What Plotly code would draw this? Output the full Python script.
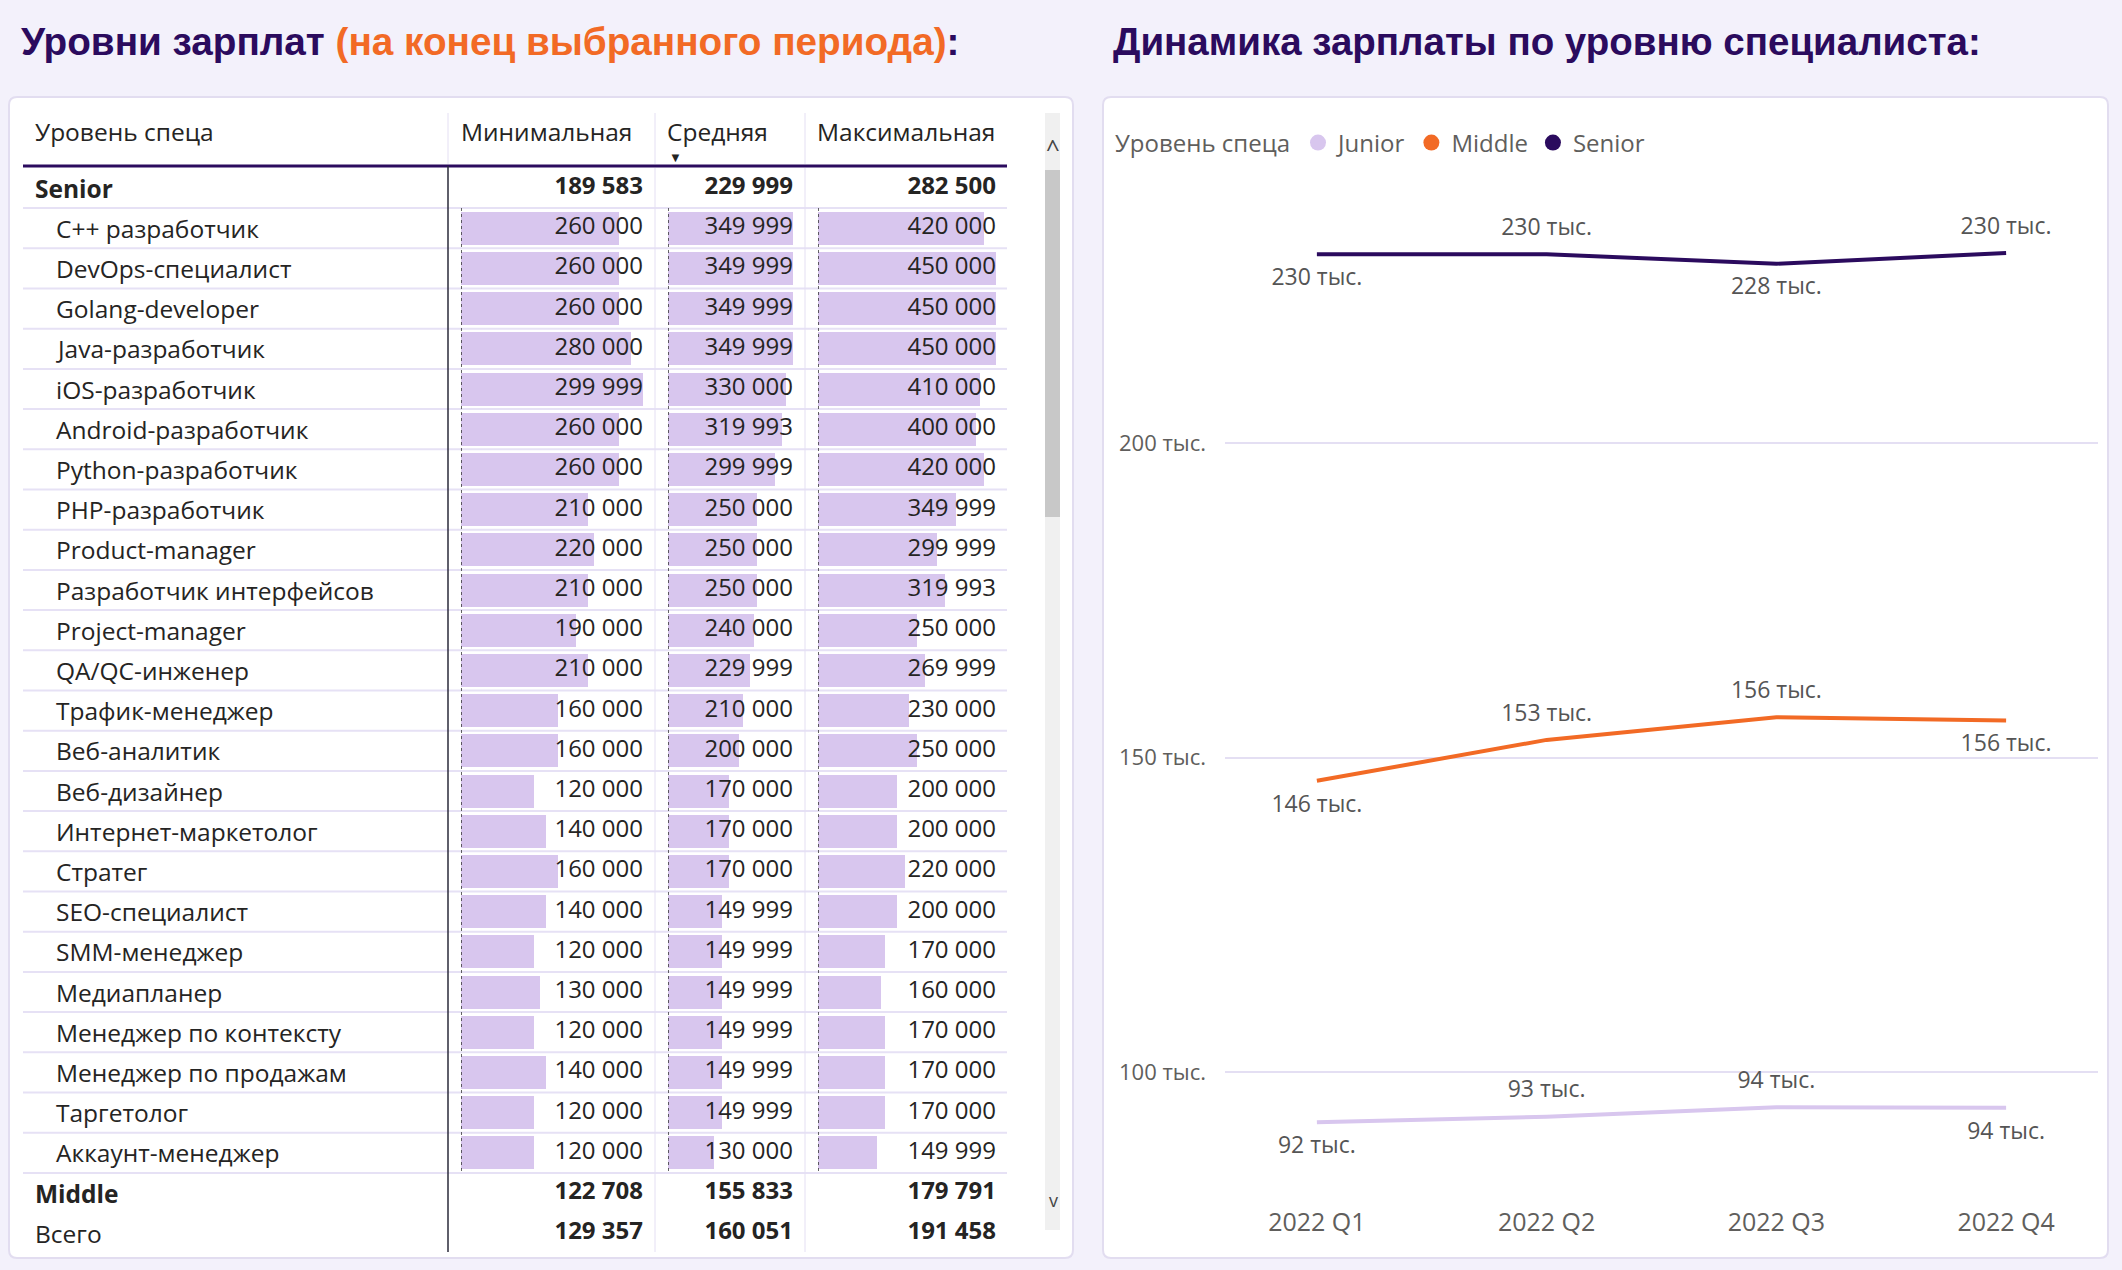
import plotly.graph_objects as go

# ---------------- data ----------------
spec_labels = ["C++ разработчик", "DevOps-специалист", "Golang-developer", "Java-разработчик",
               "iOS-разработчик", "Android-разработчик", "Python-разработчик", "PHP-разработчик",
               "Product-manager", "Разработчик интерфейсов", "Project-manager", "QA/QC-инженер",
               "Трафик-менеджер", "Веб-аналитик", "Веб-дизайнер", "Интернет-маркетолог", "Стратег",
               "SEO-специалист", "SMM-менеджер", "Медиапланер", "Менеджер по контексту",
               "Менеджер по продажам", "Таргетолог", "Аккаунт-менеджер"]
spec_min = [260000, 260000, 260000, 280000, 299999, 260000, 260000, 210000, 220000, 210000, 190000,
            210000, 160000, 160000, 120000, 140000, 160000, 140000, 120000, 130000, 120000, 140000,
            120000, 120000]
spec_mean = [349999, 349999, 349999, 349999, 330000, 319993, 299999, 250000, 250000, 250000, 240000,
             229999, 210000, 200000, 170000, 170000, 170000, 149999, 149999, 149999, 149999, 149999,
             149999, 130000]
spec_max = [420000, 450000, 450000, 450000, 410000, 400000, 420000, 349999, 299999, 319993, 250000,
            269999, 230000, 250000, 200000, 200000, 220000, 200000, 170000, 160000, 170000, 170000,
            170000, 149999]

senior_totals = [189583, 229999, 282500]
middle_totals = [122708, 155833, 179791]
all_totals = [129357, 160051, 191458]

column_headers = ["Уровень спеца", "Минимальная", "Средняя", "Максимальная"]

quarters = ["2022 Q1", "2022 Q2", "2022 Q3", "2022 Q4"]
junior_dyn = [92000, 92900, 94400, 94300]
middle_dyn = [146300, 152800, 156400, 155900]
senior_dyn = [230000, 230000, 228500, 230200]
y_ticks = [100000, 150000, 200000]

# ---------------- geometry helpers ----------------
W, H = 2122, 1270
def px(x): return x / W
def py(y): return 1 - y / H

BG = "#F3F1FB"
PURPLE = "#2B0B5E"
ORANGE = "#F26A25"
LAV = "#D8C6EE"
TXT = "#252423"
GRAY = "#605E5C"
FONT = "Segoe UI, Open Sans, Noto Sans, sans-serif"
TFONT = "Arial, Liberation Sans, sans-serif"
TS = 24.5   # table text size
VS = 24     # table value size

def fmt(v):
    return f"{v:,}".replace(",", " ")

def rrect(x0, y0, x1, y1, r=8, line="#E2DDF0", fill="white", w=2):
    rx, ry = r / W, r / H
    X0, X1 = px(x0), px(x1)
    Y0, Y1 = py(y1), py(y0)  # bottom, top in paper
    path = (f"M {X0+rx},{Y0} L {X1-rx},{Y0} Q {X1},{Y0} {X1},{Y0+ry} L {X1},{Y1-ry} "
            f"Q {X1},{Y1} {X1-rx},{Y1} L {X0+rx},{Y1} Q {X0},{Y1} {X0},{Y1-ry} "
            f"L {X0},{Y0+ry} Q {X0},{Y0} {X0+rx},{Y0} Z")
    return dict(type="path", xref="paper", yref="paper", path=path,
                line=dict(color=line, width=w), fillcolor=fill, layer="below")

# rows: 0 = Senior, 1..24 specs, 25 = Middle, 26 = Всего
n_spec = len(spec_labels)
spec_idx = list(range(1, n_spec + 1))
row_labels = ["Senior"] + spec_labels + ["Middle", "Всего"]
n_rows = len(row_labels)
group_rows = {0: senior_totals, n_spec + 1: middle_totals, n_spec + 2: all_totals}

ROW0, PITCH = 188, 40.2
y_top_px = ROW0 - 0.5 * PITCH
y_bot_px = ROW0 + (n_rows - 0.5) * PITCH

fig = go.Figure()

col_data = [spec_min, spec_mean, spec_max]
col_axes = ["x", "x2", "x3"]
for vals, ax in zip(col_data, col_axes):
    fig.add_trace(go.Bar(x=vals, y=spec_idx, orientation="h", xaxis=ax, yaxis="y",
                         marker=dict(color=LAV, line=dict(width=0)), width=0.82,
                         showlegend=False, hoverinfo="skip"))
    fig.add_trace(go.Scatter(x=[max(vals)] * n_spec, y=spec_idx, mode="text",
                             text=[fmt(v) for v in vals], textposition="middle left",
                             textfont=dict(family=FONT, size=VS, color=TXT),
                             xaxis=ax, yaxis="y", showlegend=False, hoverinfo="skip",
                             cliponaxis=False))
# group / total rows
for k, (ax, vals) in enumerate(zip(col_axes, col_data)):
    gy = list(group_rows.keys())
    fig.add_trace(go.Scatter(x=[max(vals)] * len(gy), y=gy, mode="text",
                             text=[f"<b>{fmt(group_rows[g][k])}</b>" for g in gy],
                             textposition="middle left",
                             textfont=dict(family=FONT, size=VS, color=TXT),
                             xaxis=ax, yaxis="y", showlegend=False, hoverinfo="skip",
                             cliponaxis=False))

# line chart
series = [("Junior", junior_dyn, LAV, ["bottom center", "top center", "top center", "bottom center"]),
          ("Middle", middle_dyn, ORANGE, ["bottom center", "top center", "top center", "bottom center"]),
          ("Senior", senior_dyn, PURPLE, ["bottom center", "top center", "bottom center", "top center"])]
for name, vals, col, tp in series:
    fig.add_trace(go.Scatter(x=quarters, y=vals, mode="lines+markers+text", name=name,
                             line=dict(color=col, width=4),
                             marker=dict(size=20, color="rgba(0,0,0,0)"),
                             text=[f"{round(v/1000)} тыс." for v in vals], textposition=tp,
                             textfont=dict(family=FONT, size=23, color="#555555"),
                             xaxis="x4", yaxis="y4", showlegend=False, hoverinfo="skip",
                             cliponaxis=False))
for name, vals, col, tp in series:
    fig.add_trace(go.Scatter(x=[None], y=[None], mode="markers", name=name,
                             marker=dict(size=19, color=col), xaxis="x4", yaxis="y4",
                             showlegend=True))

shapes = [rrect(9, 97, 1073, 1258), rrect(1103, 97, 2108, 1258)]
# header underline
shapes.append(dict(type="line", xref="paper", yref="paper", x0=px(23), x1=px(1007),
                   y0=py(166), y1=py(166), line=dict(color=PURPLE, width=3)))
# row separators
for i in range(0, n_spec + 1):
    shapes.append(dict(type="line", xref="paper", yref="y", x0=px(23), x1=px(1007),
                       y0=i + 0.5, y1=i + 0.5, line=dict(color="#E6E1F5", width=2)))
# column separators
shapes.append(dict(type="line", xref="paper", yref="paper", x0=px(448), x1=px(448),
                   y0=py(166), y1=py(1252), line=dict(color="#2a2a3a", width=1.5)))
for xx in [448, 655, 805]:
    shapes.append(dict(type="line", xref="paper", yref="paper", x0=px(xx), x1=px(xx),
                       y0=py(113), y1=py(164), line=dict(color="#E4DFF3", width=1)))
for xx in [655, 805]:
    shapes.append(dict(type="line", xref="paper", yref="paper", x0=px(xx), x1=px(xx),
                       y0=py(168), y1=py(1252), line=dict(color="#E4DFF3", width=1)))
# dotted bar-axis lines
for ax in ["x", "x2", "x3"]:
    shapes.append(dict(type="line", xref=ax, yref="y", x0=0, x1=0, y0=0.5, y1=n_spec + 0.5,
                       line=dict(color="#333333", width=1.5, dash="dot")))
# scrollbar
shapes.append(dict(type="rect", xref="paper", yref="paper", x0=px(1045), x1=px(1060),
                   y0=py(1230), y1=py(113), fillcolor="#F0F0F0", line=dict(width=0)))
shapes.append(dict(type="rect", xref="paper", yref="paper", x0=px(1045), x1=px(1060),
                   y0=py(517), y1=py(170), fillcolor="#C8C8C8", line=dict(width=0)))

annotations = []
# titles
annotations.append(dict(xref="paper", yref="paper", x=px(19), y=py(42), xanchor="left", yanchor="middle",
                        showarrow=False,
                        text=f"<b><span style='color:{PURPLE}'>Уровни зарплат </span>"
                             f"<span style='color:{ORANGE}'>(на конец выбранного периода)</span>"
                             f"<span style='color:{PURPLE}'>:</span></b>",
                        font=dict(family=TFONT, size=38.7, color=PURPLE)))
annotations.append(dict(xref="paper", yref="paper", x=px(1111), y=py(42), xanchor="left", yanchor="middle",
                        showarrow=False, text="<b>Динамика зарплаты по уровню специалиста:</b>",
                        font=dict(family=TFONT, size=38.5, color=PURPLE)))
# table header
for txt, xx in zip(column_headers, [33, 459, 665, 815]):
    annotations.append(dict(xref="paper", yref="paper", x=px(xx), y=py(132), xanchor="left",
                            yanchor="middle", showarrow=False, text=txt,
                            font=dict(family=FONT, size=TS, color=TXT)))
annotations.append(dict(xref="paper", yref="paper", x=px(675), y=py(157), xanchor="center",
                        yanchor="middle", showarrow=False, text="▼",
                        font=dict(family=FONT, size=13, color=TXT)))
# row labels
for i, lab in enumerate(row_labels):
    if i in (0, n_spec + 1):
        t, xx = f"<b>{lab}</b>", 33
    elif i == n_spec + 2:
        t, xx = lab, 33
    else:
        t, xx = lab, 54
    annotations.append(dict(xref="paper", yref="y", x=px(xx), y=i, xanchor="left", yanchor="middle",
                            showarrow=False, text=t, font=dict(family=FONT, size=TS, color=TXT)))
# scroll arrows
annotations.append(dict(xref="paper", yref="paper", x=px(1053), y=py(147), xanchor="center",
                        yanchor="middle", showarrow=False, text="^",
                        font=dict(family=FONT, size=24, color="#444")))
annotations.append(dict(xref="paper", yref="paper", x=px(1053), y=py(1200), xanchor="center",
                        yanchor="middle", showarrow=False, text="v",
                        font=dict(family=FONT, size=18, color="#444")))

fig.update_layout(
    width=W, height=H, margin=dict(l=0, r=0, t=0, b=0),
    paper_bgcolor=BG, plot_bgcolor="rgba(0,0,0,0)",
    shapes=shapes, annotations=annotations,
    bargap=0,
    xaxis=dict(domain=[px(461), px(643)], range=[0, max(spec_min)], visible=False, anchor="y"),
    xaxis2=dict(domain=[px(668), px(793)], range=[0, max(spec_mean)], visible=False, anchor="y"),
    xaxis3=dict(domain=[px(818), px(996)], range=[0, max(spec_max)], visible=False, anchor="y"),
    yaxis=dict(domain=[py(y_bot_px), py(y_top_px)], range=[n_rows - 0.5, -0.5], visible=False, anchor="x"),
    xaxis4=dict(domain=[px(1225), px(2098)], anchor="y4", type="category", range=[-0.4, 3.4],
                showgrid=False, showline=False, zeroline=False, ticks="",
                tickfont=dict(family=FONT, size=25, color=GRAY), ticklabelstandoff=10),
    yaxis4=dict(domain=[py(1195), py(165)], anchor="x4", range=[80445, 244197],
                tickvals=y_ticks, ticktext=[f"{v//1000} тыс." for v in y_ticks],
                showgrid=True, gridcolor="#E4DFF3", gridwidth=2, zeroline=False, showline=False,
                ticks="", tickfont=dict(family=FONT, size=22, color=GRAY), ticklabelstandoff=18),
    legend=dict(orientation="h", x=px(1113), y=py(143), xanchor="left", yanchor="middle",
                title=dict(text="Уровень спеца", side="left", font=dict(family=FONT, size=24, color=GRAY)),
                font=dict(family=FONT, size=24, color=GRAY), bgcolor="rgba(0,0,0,0)",
                itemwidth=30, tracegroupgap=0),
)

fig.write_html("out.html", config={"displayModeBar": False},
               post_script="document.body.style.margin='0px';document.body.style.overflow='hidden';")
